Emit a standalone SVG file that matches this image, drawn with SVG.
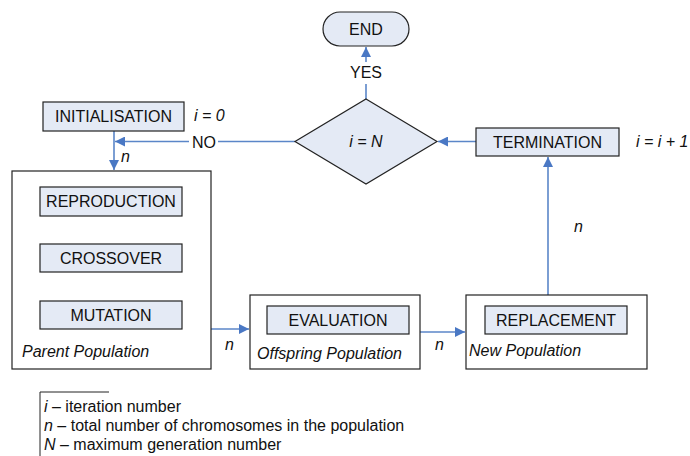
<svg xmlns="http://www.w3.org/2000/svg" width="690" height="456" viewBox="0 0 690 456">
  <style>
    .box { fill: #E4EAF5; stroke: #222; stroke-width: 1.2; }
    .frame { fill: #fff; stroke: #222; stroke-width: 1.2; }
    .lbl { font-family: "Liberation Sans", Arial, sans-serif; font-size: 16px; fill: #111; text-anchor: middle; dominant-baseline: central; }
    .it { font-family: "Liberation Sans", Arial, sans-serif; font-size: 16px; font-style: italic; fill: #111; }
    .leg { font-family: "Liberation Sans", Arial, sans-serif; font-size: 16px; fill: #111; }
    .conn { fill: none; stroke: #5B86C8; stroke-width: 1.6; }
  </style>
  <defs>
    <marker id="arrow" viewBox="0 0 10 10" refX="10" refY="5" markerWidth="10" markerHeight="10" markerUnits="userSpaceOnUse" orient="auto">
      <path d="M0,0 L10,5 L0,10 z" fill="#4A78C4"/>
    </marker>
  </defs>

  <rect width="690" height="456" fill="#fff"/>

  <!-- connectors -->
  <g id="connectors">
    <line class="conn" x1="366" y1="99" x2="366" y2="84"/>
    <line class="conn" x1="366" y1="62" x2="366" y2="47" marker-end="url(#arrow)"/>
    <line class="conn" x1="295" y1="141.5" x2="218" y2="141.5"/>
    <line class="conn" x1="189" y1="141.5" x2="115" y2="141.5" marker-end="url(#arrow)"/>
    <line class="conn" x1="114" y1="131" x2="114" y2="170" marker-end="url(#arrow)"/>
    <line class="conn" x1="476" y1="141.5" x2="438" y2="141.5" marker-end="url(#arrow)"/>
    <line class="conn" x1="548" y1="295" x2="548" y2="157" marker-end="url(#arrow)"/>
    <line class="conn" x1="211" y1="329" x2="249" y2="329" marker-end="url(#arrow)"/>
    <line class="conn" x1="420" y1="332" x2="465" y2="332" marker-end="url(#arrow)"/>
    <text class="lbl" x="366" y="72.5">YES</text>
    <text class="lbl" x="204" y="142">NO</text>
    <text class="it" x="121" y="162">n</text>
    <text class="it" x="574" y="232">n</text>
    <text class="it" x="225" y="350">n</text>
    <text class="it" x="435" y="350">n</text>
  </g>

  <g id="end">
    <rect class="box" x="323" y="12" width="86" height="34" rx="17" ry="17"/>
    <text class="lbl" x="366" y="29">END</text>
  </g>

  <g id="decision">
    <polygon class="box" points="366,99 437,141.5 366,184 295,141.5"/>
    <text class="it" x="366" y="147" text-anchor="middle">i = N</text>
  </g>

  <g id="initialisation">
    <rect class="box" x="43" y="102" width="141" height="29"/>
    <text class="lbl" x="113.5" y="116.5">INITIALISATION</text>
    <text class="it" x="194" y="121">i = 0</text>
  </g>

  <g id="termination">
    <rect class="box" x="476" y="128" width="143" height="28"/>
    <text class="lbl" x="547.5" y="142">TERMINATION</text>
    <text class="it" x="636" y="147">i = i + 1</text>
  </g>

  <g id="parent-population">
    <rect class="frame" x="12" y="171" width="199" height="198"/>
    <rect class="box" x="40" y="187" width="142" height="29"/>
    <text class="lbl" x="111" y="201.5">REPRODUCTION</text>
    <rect class="box" x="40" y="244" width="142" height="28"/>
    <text class="lbl" x="111" y="258">CROSSOVER</text>
    <rect class="box" x="40" y="301" width="142" height="28"/>
    <text class="lbl" x="111" y="315">MUTATION</text>
    <text class="it" x="22" y="357">Parent Population</text>
  </g>

  <g id="offspring-population">
    <rect class="frame" x="250" y="295" width="170" height="74"/>
    <rect class="box" x="267" y="306" width="142" height="28"/>
    <text class="lbl" x="338" y="320">EVALUATION</text>
    <text class="it" x="257" y="359">Offspring Population</text>
  </g>

  <g id="new-population">
    <rect class="frame" x="466" y="295" width="181" height="74"/>
    <rect class="box" x="485" y="306" width="142" height="28"/>
    <text class="lbl" x="556" y="320">REPLACEMENT</text>
    <text class="it" x="469" y="356">New Population</text>
  </g>

  <g id="legend">
    <path d="M109,392 H40 V456" fill="none" stroke="#222" stroke-width="1"/>
    <text class="leg" x="44" y="412"><tspan font-style="italic">i</tspan> – iteration number</text>
    <text class="leg" x="44" y="431"><tspan font-style="italic">n</tspan> – total number of chromosomes in the population</text>
    <text class="leg" x="44" y="450"><tspan font-style="italic">N</tspan> – maximum generation number</text>
  </g>
</svg>
